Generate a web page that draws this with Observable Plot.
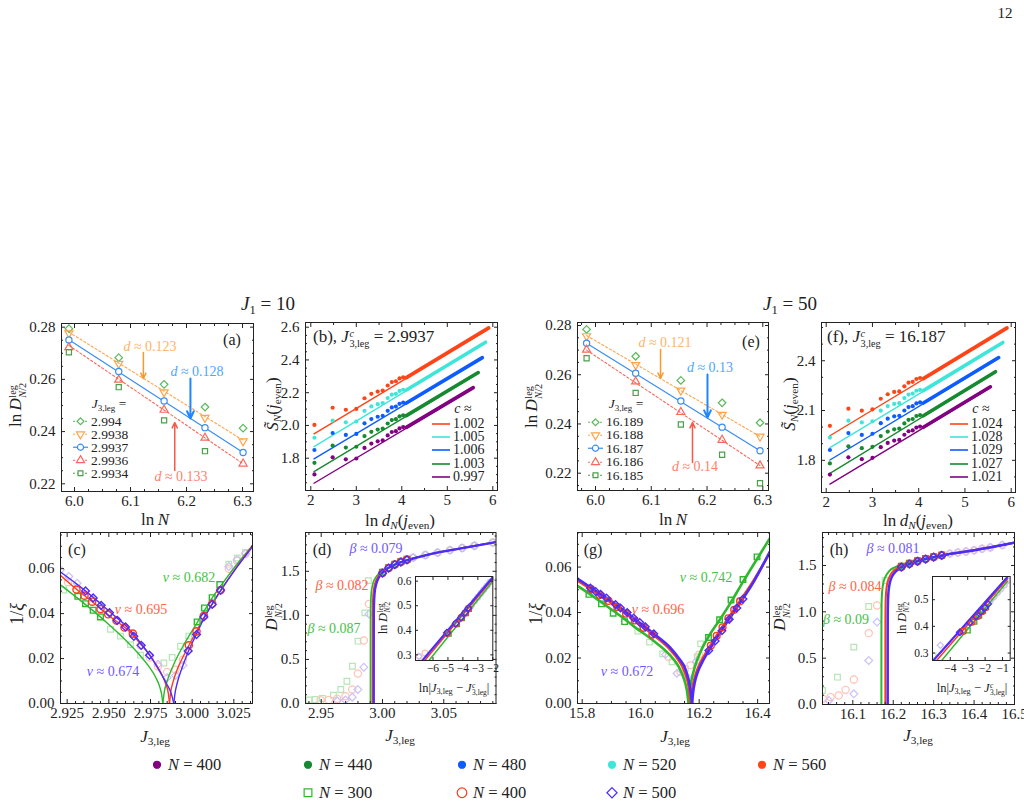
<!DOCTYPE html>
<html><head><meta charset="utf-8">
<script src="https://cdn.jsdelivr.net/npm/d3@7"></script>
<script src="https://cdn.jsdelivr.net/npm/@observablehq/plot@0.6"></script>
<style>
html,body{margin:0;padding:0;background:#fff;}
#fig{position:relative;width:1024px;height:806px;overflow:hidden;background:#fff;font-family:"Liberation Serif","DejaVu Serif",serif;color:#222;}
#fig > svg{position:absolute;overflow:visible;}
.t{position:absolute;white-space:nowrap;line-height:1;}
.ss{display:inline-block;vertical-align:-0.45em;line-height:0.95;font-size:0.6em;text-align:left;margin-left:0.05em;}
.ss>span{display:block;}
sub{font-size:0.66em;vertical-align:-0.32em;line-height:0;}
.lg{position:absolute;display:flex;align-items:center;white-space:nowrap;line-height:1;transform:translateY(-50%);}
.lg svg{position:static;overflow:visible;}
</style></head><body><div id="fig"></div>
<script>
// ---------------- DATA ----------------
// (a) J1=10, ln D vs ln N
const aX = [5.99, 6.079, 6.16, 6.233, 6.301];
const aJ2994 = [0.2794, 0.2683, 0.2581, 0.2494, 0.2413];
const aJ29938 = [0.2777, 0.2660, 0.2551, 0.2453, 0.2363];
const aJ29937 = [0.2751, 0.2630, 0.2517, 0.2415, 0.2320];
const aJ29936 = [0.2723, 0.2598, 0.2483, 0.2376, 0.2277];
const aJ29934 = [0.2704, 0.2570, 0.2443, 0.2325, 0.2150];
const aFitX = [5.99, 6.301];
const aFit29938 = [0.2781, 0.2367];
const aFit29937 = [0.2752, 0.2320];
const aFit29936 = [0.2730, 0.2277];
const aLabels = ["2.994", "2.9938", "2.9937", "2.9936", "2.9934"];
const aD = ["0.123", "0.128", "0.133"];
// (e) J1=50
const eX = [5.984, 6.072, 6.153, 6.227, 6.295];
const eJ16189 = [0.2784, 0.2675, 0.2577, 0.2486, 0.2405];
const eJ16188 = [0.2757, 0.2640, 0.2536, 0.2438, 0.2349];
const eJ16187 = [0.2728, 0.2606, 0.2493, 0.2387, 0.2291];
const eJ16186 = [0.2701, 0.2572, 0.2448, 0.2335, 0.2231];
const eJ16185 = [0.2667, 0.2526, 0.2398, 0.2275, 0.2159];
const eFitX = [5.984, 6.295];
const eFit16188 = [0.2759, 0.2349];
const eFit16187 = [0.2728, 0.2291];
const eFit16186 = [0.2700, 0.2231];
const eLabels = ["16.189", "16.188", "16.187", "16.186", "16.185"];
const eD = ["0.121", "0.13", "0.14"];
// (b) entanglement entropy, J1=10
const bX = [2.08, 2.48, 2.77, 3.00, 3.18, 3.33, 3.47, 3.58, 3.69, 3.78, 3.87, 3.95, 4.03];
const bN560 = [2.003, 2.108, 2.096, 2.101, 2.166, 2.193, 2.207, 2.213, 2.244, 2.265, 2.270, 2.287, 2.294];
const bN520 = [1.925, 2.030, 2.019, 2.024, 2.089, 2.116, 2.130, 2.137, 2.167, 2.188, 2.193, 2.211, 2.218];
const bN480 = [1.850, 1.954, 1.942, 1.948, 2.013, 2.039, 2.053, 2.059, 2.089, 2.110, 2.115, 2.132, 2.139];
const bN440 = [1.772, 1.877, 1.865, 1.870, 1.935, 1.961, 1.975, 1.981, 2.012, 2.033, 2.038, 2.055, 2.062];
const bN400 = [1.701, 1.805, 1.793, 1.798, 1.863, 1.889, 1.903, 1.909, 1.939, 1.960, 1.965, 1.982, 1.990];
const bFit = {560: [[2.07, 1.949], [5.91, 2.590]], 520: [[2.07, 1.871], [5.84, 2.504]], 480: [[2.07, 1.796], [5.77, 2.410]], 440: [[2.07, 1.718], [5.68, 2.319]], 400: [[2.07, 1.647], [5.57, 2.227]]};
const bDense = {560: [[4.1, 2.292], [5.91, 2.596]], 520: [[4.1, 2.216], [5.84, 2.508]], 480: [[4.1, 2.137], [5.77, 2.414]], 440: [[4.1, 2.060], [5.68, 2.323]], 400: [[4.1, 1.988], [5.57, 2.231]]};
const bC = ["1.002", "1.005", "1.006", "1.003", "0.997"];
// (f) J1=50
const fN560 = [2.008, 2.111, 2.099, 2.107, 2.171, 2.198, 2.212, 2.215, 2.246, 2.268, 2.273, 2.290, 2.296];
const fN520 = [1.937, 2.039, 2.028, 2.035, 2.099, 2.127, 2.140, 2.144, 2.175, 2.196, 2.202, 2.219, 2.224];
const fN480 = [1.862, 1.964, 1.953, 1.960, 2.024, 2.051, 2.065, 2.068, 2.100, 2.121, 2.126, 2.143, 2.149];
const fN440 = [1.781, 1.884, 1.873, 1.881, 1.946, 1.973, 1.987, 1.991, 2.022, 2.044, 2.049, 2.067, 2.072];
const fN400 = [1.714, 1.818, 1.807, 1.815, 1.879, 1.905, 1.919, 1.923, 1.954, 1.975, 1.980, 1.997, 2.003];
const fFit = {560: [[2.08, 1.948], [5.91, 2.592]], 520: [[2.08, 1.877], [5.82, 2.505]], 480: [[2.08, 1.802], [5.73, 2.414]], 440: [[2.08, 1.721], [5.66, 2.329]], 400: [[2.08, 1.657], [5.55, 2.238]]};
const fDense = {560: [[4.1, 2.292], [5.91, 2.598]], 520: [[4.1, 2.220], [5.82, 2.510]], 480: [[4.1, 2.145], [5.73, 2.419]], 440: [[4.1, 2.068], [5.66, 2.334]], 400: [[4.1, 1.999], [5.55, 2.243]]};
const fC = ["1.024", "1.028", "1.029", "1.027", "1.021"];
// (c) 1/xi, J1=10
const cGreenL = [[2.921,0.0528],[2.931,0.0470],[2.941,0.0410],[2.951,0.0345],[2.961,0.0275],[2.968,0.0220],[2.974,0.0165],[2.978,0.0118],[2.9805,0.0075],[2.9818,0.0035],[2.9824,0]];
const cGreenR = [[2.9824,0],[2.9832,0.0048],[2.985,0.0100],[2.989,0.0175],[2.995,0.0262],[3.003,0.0360],[3.008,0.0422],[3.012,0.0470],[3.017,0.0522],[3.025,0.0602],[3.0362,0.0703]];
const cRedL = [[2.921,0.0570],[2.931,0.0506],[2.941,0.0447],[2.951,0.0385],[2.961,0.0330],[2.969,0.0265],[2.976,0.0200],[2.981,0.0140],[2.984,0.0090],[2.9857,0.0045],[2.9864,0]];
const cRedR = [[2.9864,0],[2.9870,0.0045],[2.9885,0.0095],[2.9915,0.0160],[2.995,0.0215],[2.9985,0.0265],[3.003,0.0328],[3.008,0.0395],[3.013,0.0455],[3.018,0.0513],[3.026,0.0600],[3.0362,0.0702]];
const cBlueL = [[2.921,0.0585],[2.931,0.0530],[2.941,0.0470],[2.951,0.0405],[2.961,0.0340],[2.969,0.0270],[2.975,0.0210],[2.980,0.0150],[2.9845,0.0090],[2.9875,0.0043],[2.989,0]];
const cBlueR = [[2.989,0],[2.9897,0.0045],[2.991,0.0090],[2.994,0.0160],[2.9975,0.0228],[3.002,0.0300],[3.007,0.0378],[3.012,0.0442],[3.018,0.0512],[3.026,0.0598],[3.0362,0.0698]];
const cSqX = [2.9314, 2.936, 2.9406, 2.945, 3.003, 3.0074, 3.012, 3.0166];
const cSqY = [0.0477, 0.0444, 0.0415, 0.0385, 0.0363, 0.0425, 0.0471, 0.0529];
const cCiX = [2.9306, 2.9354, 2.940, 2.945, 2.9496, 2.9546, 2.9594, 2.9644, 2.998, 3.0026, 3.007, 3.012, 3.017];
const cCiY = [0.0507, 0.0480, 0.0453, 0.0420, 0.0397, 0.0369, 0.0338, 0.0311, 0.0259, 0.0321, 0.0390, 0.0444, 0.0504];
const cDiX = [2.936, 2.9406, 2.9454, 2.9504, 2.955, 2.96, 2.965, 2.9694, 2.9744, 2.9976, 3.0026, 3.007, 3.012, 3.017];
const cDiY = [0.0501, 0.0470, 0.0437, 0.0404, 0.0370, 0.0341, 0.0299, 0.0259, 0.0215, 0.0234, 0.0307, 0.0385, 0.0441, 0.0504];
const cGSqX = [2.923, 2.951, 2.957, 2.963, 2.969, 2.983, 2.988, 2.993, 2.998, 3.022, 3.027, 3.032];
const cGSqY = [0.0505, 0.0330, 0.0300, 0.0262, 0.0215, 0.0180, 0.0205, 0.0255, 0.0300, 0.0620, 0.0648, 0.0672];
const cGCiX = [2.9255, 2.969, 2.9745, 2.9795, 2.985, 2.990, 2.9945, 3.022, 3.027, 3.032];
const cGCiY = [0.0540, 0.0258, 0.0205, 0.0165, 0.0140, 0.0150, 0.0195, 0.0600, 0.0635, 0.0665];
const cGDiX = [2.921, 2.926, 2.931, 2.9795, 2.985, 2.990, 2.9945, 3.022, 3.027, 3.032];
const cGDiY = [0.0595, 0.0565, 0.0535, 0.0175, 0.0115, 0.0125, 0.0170, 0.0610, 0.0640, 0.0668];
const cNu = ["0.682", "0.695", "0.674"];
// (d) D vs J, J1=10
const dGreen = [[2.9902,0],[2.99021,0.6],[2.99025,0.95],[2.9904,1.13],[2.9909,1.26],[2.9920,1.35],[2.9940,1.42],[2.998,1.48],[3.003,1.525],[3.010,1.578],[3.020,1.63],[3.035,1.683],[3.050,1.727],[3.070,1.777],[3.0926,1.833]];
const dRed = [[2.9918,0],[2.99181,0.6],[2.99185,0.95],[2.9920,1.12],[2.9925,1.25],[2.9935,1.34],[2.9952,1.41],[2.9985,1.47],[3.003,1.522],[3.010,1.576],[3.020,1.627],[3.035,1.681],[3.050,1.726],[3.070,1.776],[3.0926,1.832]];
const dBlue = [[2.9929,0],[2.99291,0.6],[2.99295,0.95],[2.9931,1.12],[2.9936,1.25],[2.9945,1.33],[2.996,1.40],[2.999,1.465],[3.003,1.52],[3.010,1.575],[3.020,1.625],[3.035,1.680],[3.050,1.725],[3.070,1.775],[3.0926,1.830]];
const dMkX = [3.000, 3.005, 3.010, 3.015, 3.020];
const dSqY = [1.49, 1.54, 1.58, 1.61, 1.635];
const dCiY = [1.482, 1.537, 1.577, 1.607, 1.632];
const dDiY = [1.478, 1.535, 1.575, 1.605, 1.630];
const dGRX = [3.025, 3.035, 3.045, 3.055, 3.065, 3.075, 3.09];
const dGRY = [1.655, 1.685, 1.712, 1.74, 1.765, 1.79, 1.826];
const dGSqX = [2.94, 2.945, 2.951, 2.96, 2.966, 2.971, 2.9755, 2.98, 2.9856, 2.9885];
const dGSqY = [0.04, 0.045, 0.057, 0.095, 0.159, 0.253, 0.423, 0.707, 1.028, 1.394];
const dGCiX = [2.9495, 2.9562, 2.963, 2.9698, 2.9753, 2.9799, 2.9848, 2.9889];
const dGCiY = [0.036, 0.04, 0.053, 0.083, 0.159, 0.34, 0.714, 1.13];
const dGDiX = [2.963, 2.9698, 2.9753, 2.9799, 2.9848, 2.9889];
const dGDiY = [0.03, 0.04, 0.072, 0.159, 0.412, 1.016];
const dBeta = ["0.079", "0.082", "0.087"];
// (d) inset: ln D vs ln|J-Jc|
const diBlue = [[-6.71, 0.277], [-2.0, 0.616]];
const diRed = [[-6.55, 0.277], [-2.0, 0.610]];
const diGreen = [[-6.27, 0.277], [-2.0, 0.600]];
const diDiX = [-5.07, -4.48, -4.12, -3.85, -3.64];
const diDiY = [0.390, 0.428, 0.452, 0.472, 0.490];
const diCiX = [-5.03, -4.45, -4.10, -3.83, -3.62];
const diCiY = [0.388, 0.427, 0.452, 0.471, 0.488];
const diSqX = [-4.95, -4.40, -4.06, -3.80, -3.60];
const diSqY = [0.386, 0.425, 0.450, 0.470, 0.487];
const diGX = [-3.45, -3.2, -3.0, -2.8, -2.6, -2.4, -2.2];
const diGY = [0.50, 0.52, 0.535, 0.55, 0.565, 0.58, 0.595];
const diGLX = [-6.54, -6.94];
const diGLY = [0.308, 0.294];
// (g) 1/xi, J1=50
const gGreenL = [[15.784,0.0517],[15.83,0.0478],[15.88,0.0432],[15.93,0.0386],[15.98,0.0336],[16.045,0.0275],[16.102,0.0210],[16.13,0.0162],[16.147,0.0112],[16.158,0.0058],[16.164,0]];
const gGreenR = [[16.164,0],[16.167,0.0048],[16.173,0.0098],[16.185,0.0160],[16.205,0.0228],[16.235,0.0300],[16.27,0.0367],[16.31,0.0448],[16.35,0.0535],[16.40,0.0640],[16.441,0.0725]];
const gRedL = [[15.784,0.0541],[15.83,0.0503],[15.88,0.0460],[15.93,0.0415],[15.98,0.0365],[16.045,0.0300],[16.10,0.0238],[16.13,0.0190],[16.152,0.0135],[16.165,0.0070],[16.172,0]];
const gRedR = [[16.172,0],[16.175,0.0045],[16.181,0.0092],[16.192,0.0142],[16.206,0.0183],[16.226,0.0228],[16.261,0.0300],[16.318,0.0410],[16.386,0.0540],[16.441,0.0660]];
const gBlueL = [[15.784,0.0549],[15.83,0.0510],[15.88,0.0467],[15.93,0.0422],[15.98,0.0372],[16.045,0.0307],[16.102,0.0245],[16.13,0.0200],[16.155,0.0145],[16.168,0.0078],[16.176,0]];
const gBlueR = [[16.176,0],[16.179,0.0045],[16.185,0.0092],[16.196,0.0140],[16.21,0.0180],[16.23,0.0225],[16.266,0.0300],[16.323,0.0410],[16.386,0.0534],[16.441,0.0666]];
const gDiX = [15.828, 15.846, 15.863, 15.883, 15.914, 15.931, 15.954, 15.976, 15.997, 16.016, 16.045, 16.233, 16.255, 16.278, 16.303, 16.329, 16.35];
const gDiY = [0.0508, 0.0493, 0.0480, 0.0464, 0.0435, 0.0420, 0.0400, 0.0376, 0.0356, 0.0337, 0.0307, 0.0233, 0.0275, 0.0320, 0.0370, 0.0420, 0.0460];
const gCiX = [15.83, 15.86, 15.89, 15.92, 15.95, 15.98, 16.01, 16.04, 16.24, 16.26, 16.28, 16.30, 16.32, 16.34];
const gCiY = [0.0503, 0.0477, 0.0451, 0.0424, 0.0395, 0.0365, 0.0333, 0.0303, 0.0255, 0.0298, 0.0335, 0.0375, 0.0412, 0.0450];
const gSqX = [15.823, 15.866, 15.906, 15.945, 16.232, 16.27, 16.309, 16.35, 16.398];
const gSqY = [0.0480, 0.0438, 0.0397, 0.0360, 0.0290, 0.0368, 0.0455, 0.0545, 0.0645];
const gGSqX = [15.99, 16.03, 16.075, 16.107, 16.153, 16.193, 16.205];
const gGSqY = [0.0318, 0.0270, 0.0218, 0.0183, 0.0154, 0.0205, 0.0262];
const gGCiX = [16.095, 16.136, 16.17, 16.20];
const gGCiY = [0.0205, 0.0139, 0.0168, 0.0215];
const gGDiX = [16.085, 16.124, 16.159, 16.19];
const gGDiY = [0.0215, 0.0132, 0.0117, 0.0185];
const gNu = ["0.742", "0.696", "0.672"];
// (h) D vs J, J1=50
const hGreen = [[16.1707,0],[16.17072,0.6],[16.1708,0.9],[16.1712,1.10],[16.1726,1.22],[16.1755,1.31],[16.181,1.38],[16.190,1.44],[16.204,1.48],[16.226,1.515],[16.255,1.55],[16.29,1.583],[16.33,1.617],[16.38,1.652],[16.44,1.697],[16.5,1.748]];
const hRed = [[16.1805,0],[16.18052,0.6],[16.1806,0.9],[16.181,1.09],[16.1823,1.21],[16.185,1.30],[16.190,1.37],[16.198,1.43],[16.211,1.47],[16.232,1.508],[16.258,1.547],[16.29,1.581],[16.33,1.616],[16.38,1.651],[16.44,1.696],[16.5,1.747]];
const hBlue = [[16.1863,0],[16.18632,0.6],[16.1864,0.9],[16.1868,1.08],[16.188,1.20],[16.1905,1.29],[16.195,1.36],[16.203,1.42],[16.215,1.465],[16.235,1.505],[16.26,1.545],[16.29,1.58],[16.33,1.615],[16.38,1.650],[16.44,1.695],[16.5,1.746]];
const hMkX = [16.22, 16.24, 16.26, 16.28, 16.30, 16.32];
const hSqY = [1.492, 1.525, 1.552, 1.575, 1.595, 1.612];
const hCiY = [1.485, 1.518, 1.547, 1.570, 1.592, 1.610];
const hDiY = [1.482, 1.515, 1.545, 1.568, 1.590, 1.608];
const hGRX = [16.34, 16.36, 16.38, 16.40, 16.42, 16.44, 16.47];
const hGRY = [1.628, 1.640, 1.652, 1.665, 1.680, 1.695, 1.720];
const hGSqX = [16.025, 16.062, 16.1025, 16.1394, 16.18];
const hGSqY = [0.151, 0.295, 0.619, 1.057, 1.338];
const hGCiX = [16.026, 16.045, 16.065, 16.082, 16.1025, 16.1394, 16.16];
const hGCiY = [0.061, 0.080, 0.097, 0.158, 0.27, 0.77, 1.068];
const hGDiX = [16.0408, 16.1025, 16.1394, 16.16];
const hGDiY = [0.043, 0.115, 0.475, 0.889];
const hBeta = ["0.081", "0.084", "0.09"];
// (h) inset
const hiBlue = [[-4.96, 0.273], [-0.75, 0.582]];
const hiRed = [[-4.77, 0.273], [-0.72, 0.578]];
const hiGreen = [[-4.48, 0.273], [-0.70, 0.570]];
const hiDiX = [-3.45, -2.88, -2.52, -2.24, -2.02, -1.83];
const hiDiY = [0.378, 0.414, 0.437, 0.455, 0.470, 0.484];
const hiCiX = [-3.25, -2.75, -2.42, -2.17, -1.98];
const hiCiY = [0.382, 0.416, 0.438, 0.456, 0.471];
const hiSqX = [-3.0, -2.62, -2.34, -2.12, -1.94];
const hiSqY = [0.385, 0.418, 0.440, 0.458, 0.472];
const hiGX = [-1.7, -1.5, -1.3, -1.1, -0.9, -0.7];
const hiGY = [0.495, 0.51, 0.525, 0.54, 0.555, 0.572];
const hiGLX = [-4.57, -4.96];
const hiGLY = [0.329, 0.291];
// bottom legend
const legTop = ["N = 400", "N = 440", "N = 480", "N = 520", "N = 560"];
const legBot = ["N = 300", "N = 400", "N = 500"];

// ---------------- STYLE ----------------
const FONT = '"Liberation Serif","DejaVu Serif",serif';
const col = {
  aDi: "#5cb85c", aTd: "#ffa54a", aCi: "#3a8ef2", aTu: "#f8695a", aSq: "#4c9f4c",
  aTdT: "#ffb468", aCiT: "#4ea6ff", aTuT: "#ff7f6e", aTdA: "#f59a2e", aCiA: "#1e86ff", aTuA: "#f55a48",
  n560: "#ff4517", n520: "#3ee6da", n480: "#0d5cff", n440: "#158a30", n400: "#820082",
  g: "#2eb82e", r: "#ff3a1c", b: "#4a2cff",
  gT: "#45c245", rT: "#ff6446", bT: "#7058ff",
  gG: "#b6e6b6", rG: "#ffc2b4", bG: "#cbc0fa"
};
const fig = document.getElementById("fig");
const xy = (xs, ys) => xs.map((x, i) => ({x, y: ys[i]}));
const pr = a => a.map(([x, y]) => ({x, y}));
const rng = (a, b, s) => d3.range(Math.ceil(a / s - 1e-9), Math.floor(b / s + 1e-9) + 1).map(k => +(k * s).toFixed(6));
const L = (data, stroke, sw, extra = {}) => Plot.line(data, {x: "x", y: "y", stroke, strokeWidth: sw, clip: true, ...extra});
const Dt = (data, symbol, stroke, r, extra = {}) => Plot.dot(data, {x: "x", y: "y", symbol, r, stroke, fill: "none", strokeWidth: 1.2, clip: true, ...extra});

function panel(o) {
  const ML = 50, MR = 14, MT = 14, MB = 32;
  const w = o.x1 - o.x0, h = o.y1 - o.y0;
  const ts = o.ts || 4;
  const near = (arr, v) => arr.some(t => Math.abs(t - v) < 1e-9);
  const mx = o.xm ? rng(o.xd[0], o.xd[1], o.xm).filter(v => !near(o.xt, v)) : [];
  const my = o.ym ? rng(o.yd[0], o.yd[1], o.ym).filter(v => !near(o.yt, v)) : [];
  const blank = () => "";
  const marks = [];
  if (o.bg) marks.push(Plot.frame({fill: "white", stroke: null}));
  marks.push(...o.marks);
  marks.push(
    Plot.frame({stroke: "#222", strokeWidth: 1}),
    Plot.axisX({anchor: "bottom", ticks: o.xt, tickSize: -ts, tickPadding: ts + (o.xp || 4), tickFormat: o.xf, label: null}),
    Plot.axisX({anchor: "top", ticks: o.xt, tickSize: -ts, tickFormat: blank, label: null}),
    Plot.axisY({anchor: "left", ticks: o.yt, tickSize: -ts, tickPadding: ts + (o.yp || 6), tickFormat: o.yf, label: null}),
    Plot.axisY({anchor: "right", ticks: o.yt, tickSize: -ts, tickFormat: blank, label: null})
  );
  if (mx.length) marks.push(
    Plot.axisX({anchor: "bottom", ticks: mx, tickSize: -2, tickFormat: blank, label: null}),
    Plot.axisX({anchor: "top", ticks: mx, tickSize: -2, tickFormat: blank, label: null}));
  if (my.length) marks.push(
    Plot.axisY({anchor: "left", ticks: my, tickSize: -2, tickFormat: blank, label: null}),
    Plot.axisY({anchor: "right", ticks: my, tickSize: -2, tickFormat: blank, label: null}));
  const svg = Plot.plot({
    width: w + ML + MR, height: h + MT + MB,
    marginLeft: ML, marginRight: MR, marginTop: MT, marginBottom: MB,
    x: {domain: o.xd, label: null}, y: {domain: o.yd, label: null},
    style: {fontFamily: FONT, fontSize: (o.fs || 15) + "px", color: "#222", background: "transparent", overflow: "visible"},
    marks
  });
  svg.style.left = (o.x0 - ML) + "px";
  svg.style.top = (o.y0 - MT) + "px";
  fig.appendChild(svg);
}

function T(html, x, y, o = {}) {
  const d = document.createElement("div");
  d.className = "t";
  d.innerHTML = html;
  d.style.left = x + "px"; d.style.top = y + "px";
  d.style.fontSize = (o.size || 16) + "px";
  d.style.color = o.color || "#222";
  d.style.transform = o.anchor === "l" ? "translate(0,-50%)" : (o.rot ? "translate(-50%,-50%) rotate(-90deg)" : "translate(-50%,-50%)");
  fig.appendChild(d);
}

function swatch(w, color, dash, sym, area, rot, filled, lw) {
  const s = d3.create("svg").attr("width", w).attr("height", 12);
  if (dash !== null) s.append("line").attr("x1", 0).attr("x2", w).attr("y1", 6).attr("y2", 6)
    .attr("stroke", color).attr("stroke-width", lw || 1.2).attr("stroke-dasharray", dash || null);
  if (sym) s.append("path").attr("d", d3.symbol(sym, area)()).attr("transform", `translate(${w / 2},6) rotate(${rot || 0})`)
    .attr("fill", filled ? color : "white").attr("stroke", color).attr("stroke-width", 1.2);
  return s.node();
}
function legRow(x, y, sw, label, size, gap) {
  const d = document.createElement("div");
  d.className = "lg";
  d.style.left = x + "px"; d.style.top = y + "px"; d.style.fontSize = size + "px";
  d.appendChild(sw);
  const sp = document.createElement("span");
  sp.innerHTML = label; sp.style.marginLeft = gap + "px";
  d.appendChild(sp);
  fig.appendChild(d);
}

const DLEG = '<i>D</i><span class="ss"><span>leg</span><span><i>N</i>/2</span></span>';
const J3 = '<i>J</i><sub>3,leg</sub>';
const J3C = '<i>J</i><span class="ss"><span><i>c</i></span><span>3,leg</span></span>';
const LND = 'ln&thinsp;<i>d</i><sub><i>N</i></sub>(<i>j</i><sub>even</sub>)';
const STIL = '<i>S&#771;</i><sub><i>N</i></sub>(<i>j</i><sub>even</sub>)';

// ---------------- PANELS ----------------
const f1 = d3.format(".1f"), f2 = d3.format(".2f"), f3 = d3.format(".3f"), fd = d3.format("d");

// (a)
panel({x0: 61, x1: 253, y0: 323, y1: 491, xd: [5.9768, 6.3196], yd: [0.21705, 0.2814],
  xt: [6.0, 6.1, 6.2, 6.3], yt: [0.22, 0.24, 0.26, 0.28], xf: f1, yf: f2, xm: 0.025, ym: 0.005,
  marks: [
    L(xy(aFitX, aFit29938), col.aTd, 1.1, {strokeDasharray: "2.2,2.2"}),
    L(xy(aFitX, aFit29937), col.aCi, 1.2),
    L(xy(aFitX, aFit29936), col.aTu, 1.1, {strokeDasharray: "2.2,2.2"}),
    Dt(xy(aX, aJ2994), "diamond2", col.aDi, 3.4),
    Dt(xy(aX, aJ29938), "triangle", col.aTd, 3.0, {rotate: 180}),
    Dt(xy(aX, aJ29937), "circle", col.aCi, 3.1, {fill: "white"}),
    Dt(xy(aX, aJ29936), "triangle", col.aTu, 3.0),
    Dt(xy(aX, aJ29934), "square", col.aSq, 2.9),
    Plot.arrow([{x: 6.123, y1: 0.2703, y2: 0.2603}], {x1: "x", x2: "x", y1: "y1", y2: "y2", stroke: col.aTdA, strokeWidth: 1.5, headLength: 6, headAngle: 50}),
    Plot.arrow([{x: 6.207, y1: 0.2603, y2: 0.2450}], {x1: "x", x2: "x", y1: "y1", y2: "y2", stroke: col.aCiA, strokeWidth: 2, headLength: 6, headAngle: 50}),
    Plot.arrow([{x: 6.179, y1: 0.2251, y2: 0.2435}], {x1: "x", x2: "x", y1: "y1", y2: "y2", stroke: col.aTuA, strokeWidth: 1.5, headLength: 6, headAngle: 50})
  ]});

// (e)
panel({x0: 577, x1: 768, y0: 322, y1: 490, xd: [5.9677, 6.3102], yd: [0.21297, 0.28122],
  xt: [6.0, 6.1, 6.2, 6.3], yt: [0.22, 0.24, 0.26, 0.28], xf: f1, yf: f2, xm: 0.025, ym: 0.005,
  marks: [
    L(xy(eFitX, eFit16188), col.aTd, 1.1, {strokeDasharray: "2.2,2.2"}),
    L(xy(eFitX, eFit16187), col.aCi, 1.2),
    L(xy(eFitX, eFit16186), col.aTu, 1.1, {strokeDasharray: "2.2,2.2"}),
    Dt(xy(eX, eJ16189), "diamond2", col.aDi, 3.4),
    Dt(xy(eX, eJ16188), "triangle", col.aTd, 3.0, {rotate: 180}),
    Dt(xy(eX, eJ16187), "circle", col.aCi, 3.1, {fill: "white"}),
    Dt(xy(eX, eJ16186), "triangle", col.aTu, 3.0),
    Dt(xy(eX, eJ16185), "square", col.aSq, 2.9),
    Plot.arrow([{x: 6.1166, y1: 0.2703, y2: 0.2585}], {x1: "x", x2: "x", y1: "y1", y2: "y2", stroke: col.aTdA, strokeWidth: 1.5, headLength: 6, headAngle: 50}),
    Plot.arrow([{x: 6.2008, y1: 0.2601, y2: 0.2426}], {x1: "x", x2: "x", y1: "y1", y2: "y2", stroke: col.aCiA, strokeWidth: 2, headLength: 6, headAngle: 50}),
    Plot.arrow([{x: 6.1739, y1: 0.2243, y2: 0.2406}], {x1: "x", x2: "x", y1: "y1", y2: "y2", stroke: col.aTuA, strokeWidth: 1.5, headLength: 6, headAngle: 50})
  ]});

// (b) and (f)
function entMarks(series, fits, dense) {
  const cs = [col.n560, col.n520, col.n480, col.n440, col.n400];
  const ks = [560, 520, 480, 440, 400];
  const m = [];
  ks.forEach((k, i) => {
    m.push(L(pr(fits[k]), cs[i], 1.4));
    m.push(L(pr(dense[k]), cs[i], 3.6));
    m.push(Plot.dot(xy(bX, series[i]), {x: "x", y: "y", r: 2.1, fill: cs[i], stroke: null, clip: true}));
  });
  return m;
}
panel({x0: 305, x1: 497, y0: 322, y1: 490, xd: [1.8835, 6.103], yd: [1.6027, 2.6287],
  xt: [2, 3, 4, 5, 6], yt: [1.8, 2.0, 2.2, 2.4, 2.6], xf: fd, yf: f1, xm: 0.5, ym: 0.05,
  marks: entMarks([bN560, bN520, bN480, bN440, bN400], bFit, bDense)});
panel({x0: 821, x1: 1015, y0: 322, y1: 492, xd: [1.8984, 6.093], yd: [1.6061, 2.6303],
  xt: [2, 3, 4, 5, 6], yt: [1.8, 2.1, 2.4], xf: fd, yf: f1, xm: 0.5, ym: 0.1,
  marks: entMarks([fN560, fN520, fN480, fN440, fN400], fFit, fDense)});

// (c)
panel({x0: 60, x1: 252, y0: 532, y1: 703, xd: [2.921, 3.0362], yd: [0, 0.0761],
  xt: [2.925, 2.95, 2.975, 3.0, 3.025], yt: [0, 0.02, 0.04, 0.06], xf: f3, yf: f2, xm: 0.005, ym: 0.005,
  marks: [
    Dt(xy(cGSqX, cGSqY), "square", col.gG, 3.2),
    Dt(xy(cGCiX, cGCiY), "circle", col.rG, 3.6),
    Dt(xy(cGDiX, cGDiY), "diamond2", col.bG, 3.5),
    L(pr(cGreenL), col.g, 1.4, {curve: "monotone-x"}), L(pr(cGreenR), col.g, 1.4, {curve: "monotone-x"}),
    L(pr(cRedL), col.r, 1.4, {curve: "monotone-x"}), L(pr(cRedR), col.r, 1.4, {curve: "monotone-x"}),
    L(pr(cBlueL), col.b, 1.4, {curve: "monotone-x"}), L(pr(cBlueR), col.b, 1.4, {curve: "monotone-x"}),
    Dt(xy(cSqX, cSqY), "square", col.g, 3.2, {strokeWidth: 1.4}),
    Dt(xy(cCiX, cCiY), "circle", col.r, 3.6, {strokeWidth: 1.4}),
    Dt(xy(cDiX, cDiY), "diamond2", col.b, 3.5, {strokeWidth: 1.4})
  ]});

// (g)
panel({x0: 577, x1: 769, y0: 532, y1: 703, xd: [15.784, 16.4406], yd: [0, 0.0752],
  xt: [15.8, 16.0, 16.2, 16.4], yt: [0, 0.02, 0.04, 0.06], xf: f1, yf: f2, xm: 0.05, ym: 0.005,
  marks: [
    Dt(xy(gGSqX, gGSqY), "square", col.gG, 3.1),
    Dt(xy(gGCiX, gGCiY), "circle", col.rG, 3.4),
    Dt(xy(gGDiX, gGDiY), "diamond2", col.bG, 3.4),
    L(pr(gGreenL), col.g, 2.6, {curve: "monotone-x"}), L(pr(gGreenR), col.g, 2.6, {curve: "monotone-x"}),
    L(pr(gRedL), col.r, 2.6, {curve: "monotone-x"}), L(pr(gRedR), col.r, 2.6, {curve: "monotone-x"}),
    L(pr(gBlueL), col.b, 2.6, {curve: "monotone-x"}), L(pr(gBlueR), col.b, 2.6, {curve: "monotone-x"}),
    Dt(xy(gSqX, gSqY), "square", col.g, 3.1, {strokeWidth: 1.4}),
    Dt(xy(gCiX, gCiY), "circle", col.r, 3.4, {strokeWidth: 1.4}),
    Dt(xy(gDiX, gDiY), "diamond2", col.b, 3.4, {strokeWidth: 1.4})
  ]});

// (d)
panel({x0: 305, x1: 495.5, y0: 532, y1: 703, xd: [2.9372, 3.0926], yd: [0, 1.94],
  xt: [2.95, 3.0, 3.05], yt: [0, 0.5, 1.0, 1.5], xf: f2, yf: f1, xm: 0.01, ym: 0.1,
  marks: [
    Dt(xy(dGSqX, dGSqY), "square", col.gG, 3.2),
    Dt(xy(dGCiX, dGCiY), "circle", col.rG, 3.6),
    Dt(xy(dGDiX, dGDiY), "diamond2", col.bG, 3.5),
    Dt(xy(dGRX, dGRY), "circle", "#d2c6dc", 3.6),
    Dt(xy(dGRX, dGRY), "diamond2", "#c6bde8", 3.5),
    L(pr(dGreen), col.g, 1.7, {curve: "monotone-x"}),
    L(pr(dRed), col.r, 1.7, {curve: "monotone-x"}),
    L(pr(dBlue), col.b, 2.3, {curve: "monotone-x"}),
    Dt(xy(dMkX, dSqY), "square", col.g, 3.2, {strokeWidth: 1.4}),
    Dt(xy(dMkX, dCiY), "circle", col.r, 3.6, {strokeWidth: 1.4}),
    Dt(xy(dMkX, dDiY), "diamond2", col.b, 3.5, {strokeWidth: 1.4})
  ]});
panel({x0: 415, x1: 492.3, y0: 576, y1: 660, xd: [-7.17, -2.0], yd: [0.277, 0.619], bg: true,
  xt: [-6, -5, -4, -3, -2], yt: [0.3, 0.4, 0.5, 0.6], xf: fd, yf: f1, fs: 11.5, ts: 3, xp: 3, yp: 4,
  marks: [
    Dt(xy(diGX, diGY), "circle", "#d2c6dc", 2.8), Dt(xy(diGX, diGY), "diamond2", "#c6bde8", 2.8),
    Dt(xy(diGLX, diGLY), "circle", col.rG, 2.8), Dt(xy([diGLX[1]], [diGLY[1]]), "diamond2", col.bG, 2.8),
    L(pr(diGreen), col.g, 1.5), L(pr(diRed), col.r, 1.5), L(pr(diBlue), col.b, 2.2),
    Dt(xy(diSqX, diSqY), "square", col.g, 2.8, {strokeWidth: 1.3}),
    Dt(xy(diCiX, diCiY), "circle", col.r, 3.0, {strokeWidth: 1.3}),
    Dt(xy(diDiX, diDiY), "diamond2", col.b, 3.0, {strokeWidth: 1.3})
  ]});

// (h)
panel({x0: 822, x1: 1014, y0: 532, y1: 704, xd: [16.025, 16.5], yd: [0, 1.856],
  xt: [16.1, 16.2, 16.3, 16.4, 16.5], yt: [0, 0.5, 1.0, 1.5], xf: f1, yf: f1, xm: 0.02, ym: 0.1,
  marks: [
    Dt(xy(hGSqX, hGSqY), "square", col.gG, 3.2),
    Dt(xy(hGCiX, hGCiY), "circle", col.rG, 3.6),
    Dt(xy(hGDiX, hGDiY), "diamond2", col.bG, 3.5),
    Dt(xy(hGRX, hGRY), "circle", "#f0c8d8", 3.6),
    Dt(xy(hGRX, hGRY), "diamond2", "#d4c0ee", 3.5),
    L(pr(hGreen), col.g, 2.0, {curve: "monotone-x"}),
    L(pr(hRed), col.r, 2.0, {curve: "monotone-x"}),
    L(pr(hBlue), col.b, 2.5, {curve: "monotone-x"}),
    Dt(xy(hMkX, hSqY), "square", col.g, 3.2, {strokeWidth: 1.4}),
    Dt(xy(hMkX, hCiY), "circle", col.r, 3.6, {strokeWidth: 1.4}),
    Dt(xy(hMkX, hDiY), "diamond2", col.b, 3.5, {strokeWidth: 1.4})
  ]});
panel({x0: 932.3, x1: 1010, y0: 576, y1: 660, xd: [-5.02, -0.56], yd: [0.272, 0.587], bg: true,
  xt: [-4, -3, -2, -1], yt: [0.3, 0.4, 0.5], xf: fd, yf: f1, fs: 11.5, ts: 3, xp: 3, yp: 4,
  marks: [
    Dt(xy(hiGX, hiGY), "circle", "#f0c8d8", 2.8), Dt(xy(hiGX, hiGY), "diamond2", "#d4c0ee", 2.8),
    Dt(xy([hiGLX[0]], [hiGLY[0]]), "diamond2", col.bG, 2.8), Dt(xy([hiGLX[1]], [hiGLY[1]]), "square", col.gG, 2.6),
    L(pr(hiGreen), col.g, 1.5), L(pr(hiRed), col.r, 1.5), L(pr(hiBlue), col.b, 2.2),
    Dt(xy(hiSqX, hiSqY), "square", col.g, 2.8, {strokeWidth: 1.3}),
    Dt(xy(hiCiX, hiCiY), "circle", col.r, 3.0, {strokeWidth: 1.3}),
    Dt(xy(hiDiX, hiDiY), "diamond2", col.b, 3.0, {strokeWidth: 1.3})
  ]});

// ---------------- TEXT ----------------
T("12", 1005, 13, {size: 15});
T('<i>J</i><sub>1</sub> = 10', 268, 303, {size: 19});
T('<i>J</i><sub>1</sub> = 50', 790, 303, {size: 19});

// axis labels
T('ln&thinsp;<i>N</i>', 155, 519, {size: 17});
T('ln&thinsp;<i>N</i>', 673, 519, {size: 17});
T('ln&thinsp;' + DLEG, 17, 405, {size: 17, rot: true});
T('ln&thinsp;' + DLEG, 533, 406, {size: 17, rot: true});
T(LND, 400, 520, {size: 17});
T(LND, 918, 520, {size: 17});
T(STIL, 272, 404, {size: 17, rot: true});
T(STIL, 789, 404, {size: 17, rot: true});
T(J3, 155, 736, {size: 17});
T(J3, 400, 735, {size: 17});
T(J3, 675, 736, {size: 17});
T(J3, 918, 735, {size: 17});
T('1/<i>ξ</i>', 17, 614, {size: 18, rot: true});
T('1/<i>ξ</i>', 536, 614, {size: 18, rot: true});
T(DLEG, 273, 617, {size: 17, rot: true});
T(DLEG, 781, 617, {size: 17, rot: true});
// inset labels
T('ln&thinsp;' + DLEG, 384, 618, {size: 12.5, rot: true});
T('ln&thinsp;' + DLEG, 903, 618, {size: 12.5, rot: true});
T('ln|' + J3 + ' − ' + J3C + '|', 454, 689, {size: 12.5});
T('ln|' + J3 + ' − ' + J3C + '|', 972, 689, {size: 12.5});

// panel tags
T('(a)', 232, 340, {size: 16});
T('(b), ' + J3C + ' = 2.9937', 313, 338, {size: 17, anchor: "l"});
T('(c)', 77, 550, {size: 16});
T('(d)', 322, 550, {size: 16});
T('(e)', 751, 342, {size: 16});
T('(f), ' + J3C + ' = 16.187', 827, 338, {size: 17, anchor: "l"});
T('(g)', 593, 550, {size: 16});
T('(h)', 839, 550, {size: 16});

// annotations
T('<i>d</i> ≈ ' + aD[0], 150, 347, {size: 14, color: col.aTdT});
T('<i>d</i> ≈ ' + aD[1], 197, 372, {size: 14, color: col.aCiT});
T('<i>d</i> ≈ ' + aD[2], 181, 477, {size: 14, color: col.aTuT});
T('<i>d</i> ≈ ' + eD[0], 665, 343, {size: 14, color: col.aTdT});
T('<i>d</i> ≈ ' + eD[1], 710, 368, {size: 14, color: col.aCiT});
T('<i>d</i> ≈ ' + eD[2], 695, 467, {size: 14, color: col.aTuT});
T('<i>ν</i> ≈ ' + cNu[0], 189, 578, {size: 14, color: col.gT});
T('<i>ν</i> ≈ ' + cNu[1], 141, 610, {size: 14, color: col.rT});
T('<i>ν</i> ≈ ' + cNu[2], 113, 672, {size: 14, color: col.bT});
T('<i>ν</i> ≈ ' + gNu[0], 706, 578, {size: 14, color: col.gT});
T('<i>ν</i> ≈ ' + gNu[1], 658, 610, {size: 14, color: col.rT});
T('<i>ν</i> ≈ ' + gNu[2], 627, 672, {size: 14, color: col.bT});
T('<i>β</i> ≈ ' + dBeta[0], 376, 549, {size: 14, color: col.bT});
T('<i>β</i> ≈ ' + dBeta[1], 342, 586, {size: 14, color: col.rT});
T('<i>β</i> ≈ ' + dBeta[2], 334, 629, {size: 14, color: col.gT});
T('<i>β</i> ≈ ' + hBeta[0], 893, 549, {size: 14, color: col.bT});
T('<i>β</i> ≈ ' + hBeta[1], 855, 587, {size: 14, color: col.rT});
T('<i>β</i> ≈ ' + hBeta[2], 846, 620, {size: 14, color: col.gT});

// panel legends (a),(e)
const aSyms = [[col.aDi, "2,2", d3.symbolDiamond2, 30, 0], [col.aTd, "2,2", d3.symbolTriangle, 28, 180], [col.aCi, "", d3.symbolCircle, 30, 0], [col.aTu, "2,2", d3.symbolTriangle, 28, 0], [col.aSq, "2,2", d3.symbolSquare, 24, 0]];
T(J3 + ' =', 109, 404, {size: 13.5});
[421.5, 434.5, 447.5, 460.5, 473.5].forEach((y, i) => legRow(73, y, swatch(15, aSyms[i][0], aSyms[i][1], aSyms[i][2], aSyms[i][3], aSyms[i][4], false), aLabels[i], 13.5, 3));
T(J3 + ' =', 626, 404, {size: 13.5});
[422, 435, 448.5, 462, 475.5].forEach((y, i) => legRow(588, y, swatch(15, aSyms[i][0], aSyms[i][1], aSyms[i][2], aSyms[i][3], aSyms[i][4], false), eLabels[i], 13.5, 3));
// (b),(f)
const bCols = [col.n560, col.n520, col.n480, col.n440, col.n400];
T('<i>c</i> ≈', 463, 409, {size: 14});
[424, 437, 450, 463.5, 477].forEach((y, i) => legRow(432, y, swatch(18, bCols[i], "", null, 0, 0, false, 1.6), bC[i], 14, 3));
T('<i>c</i> ≈', 981, 409, {size: 14});
[423.5, 437, 450, 463.5, 477].forEach((y, i) => legRow(950, y, swatch(18, bCols[i], "", null, 0, 0, false, 1.6), fC[i], 14, 3));

// bottom legend
const topX = [157, 308, 462, 612, 762];
const topC = [col.n400, col.n440, col.n480, col.n520, col.n560];
topX.forEach((x, i) => legRow(x - 5, 765, swatch(10, topC[i], null, d3.symbolCircle, 38, 0, true), '<i>N</i> = ' + legTop[i].slice(4), 16.5, 6));
const botS = [[d3.symbolSquare, col.g, 60], [d3.symbolCircle, col.r, 72], [d3.symbolDiamond2, col.b, 66]];
[308, 462, 612].forEach((x, i) => legRow(x - 6, 793, swatch(12, botS[i][1], null, botS[i][0], botS[i][2], 0, false), '<i>N</i> = ' + legBot[i].slice(4), 16.5, 5));
</script></body></html>
